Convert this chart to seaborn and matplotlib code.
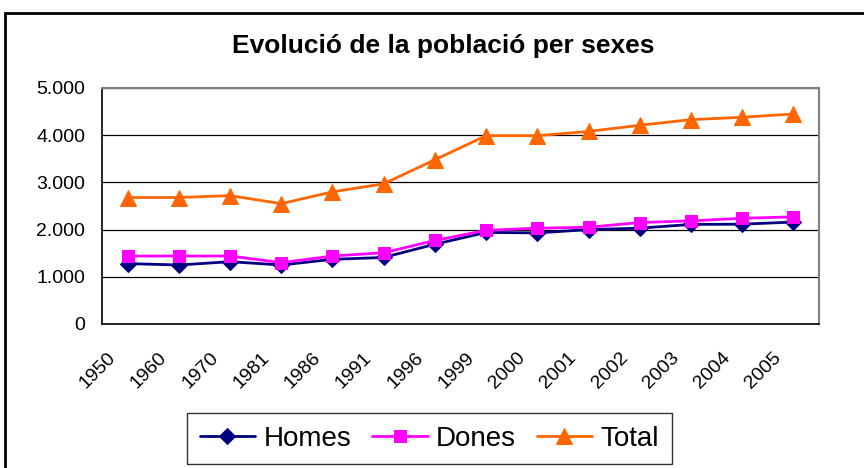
import pandas as pd
import matplotlib.pyplot as plt
import seaborn as sns
from matplotlib.patches import Rectangle
from matplotlib.ticker import FuncFormatter, FixedLocator

# Data
years = ['1950', '1960', '1970', '1981', '1986', '1991', '1996',
         '1999', '2000', '2001', '2002', '2003', '2004', '2005']
homes = [1280, 1250, 1320, 1250, 1370, 1410, 1690, 1940, 1930, 2000, 2030, 2110, 2115, 2160]
dones = [1440, 1440, 1440, 1300, 1440, 1510, 1770, 1985, 2030, 2050, 2150, 2185, 2240, 2270]
total = [2680, 2680, 2720, 2550, 2800, 2970, 3480, 3990, 3990, 4080, 4210, 4330, 4380, 4450]

df = pd.DataFrame({'pos': range(len(years)), 'year': years,
                   'Homes': homes, 'Dones': dones, 'Total': total})
long_df = df.melt(id_vars=['pos', 'year'], value_vars=['Homes', 'Dones', 'Total'],
                  var_name='serie', value_name='valor')

sns.set_style('white')
plt.rcParams['font.family'] = ['Liberation Sans', 'DejaVu Sans']
plt.rcParams['text.color'] = 'black'
plt.rcParams['xtick.color'] = 'black'
plt.rcParams['ytick.color'] = 'black'

fig = plt.figure(figsize=(8.64, 4.68), dpi=100)
ax = fig.add_axes([102 / 864, 1 - 324 / 468, 717 / 864, 236 / 468])

colors = {'Homes': '#000080', 'Dones': '#FF00FF', 'Total': '#FF6600'}
markers = {'Homes': 'D', 'Dones': 's', 'Total': '^'}
sizes = {'Homes': 8, 'Dones': 9, 'Total': 12}

for name in ['Homes', 'Dones', 'Total']:
    sub = long_df[long_df['serie'] == name]
    sns.lineplot(data=sub, x='pos', y='valor', ax=ax, color=colors[name],
                 marker=markers[name], markersize=sizes[name], markeredgecolor=colors[name],
                 linewidth=2, label=name, legend=False)

ax.set_xlim(-0.5, len(years) - 0.5)
ax.set_ylim(0, 5000)
ax.set_yticks(range(0, 5001, 1000))
ax.yaxis.set_major_formatter(FuncFormatter(lambda v, p: f'{int(v):,}'.replace(',', '.')))
ax.yaxis.grid(True, color='black', linewidth=0.9)
ax.set_axisbelow(True)

# category boundaries as tick marks; rotated labels sit a little left of each centre
ax.xaxis.set_major_locator(FixedLocator([i - 0.5 for i in range(len(years) + 1)]))
ax.xaxis.set_minor_locator(FixedLocator([i - 0.4 for i in range(len(years))]))
ax.set_xticklabels([])
ax.set_xticklabels(years, minor=True, rotation=45, ha='right', va='top', rotation_mode='anchor')
ax.tick_params(axis='x', which='major', length=5, width=1, color='black', direction='out')
ax.tick_params(axis='x', which='minor', length=0, labelsize=14, pad=18)
ax.tick_params(axis='y', length=5, width=1, color='black', direction='out', labelsize=14, pad=7)
ax.set_xlabel('')
ax.set_ylabel('')

for side in ['left', 'bottom']:
    ax.spines[side].set_color('black')
    ax.spines[side].set_linewidth(1.2)
for side in ['top', 'right']:
    ax.spines[side].set_color('#808080')
    ax.spines[side].set_linewidth(1.5)

fig.text(443 / 864, 1 - 46 / 468, 'Evolució de la població per sexes',
         ha='center', va='center', fontsize=19, fontweight='bold')

# outer chart frame (cut by the image edge)
fig.patches.append(Rectangle((5 / 864, -0.2), 2, 1 - 13 / 468 + 0.2,
                             transform=fig.transFigure, fill=False,
                             edgecolor='black', linewidth=2))

handles, labels = ax.get_legend_handles_labels()
leg = fig.legend(handles, labels, loc='upper left', bbox_to_anchor=(187 / 864, 1 - 413 / 468),
                 ncol=3, fontsize=20, frameon=True, fancybox=False, handlelength=2.0,
                 columnspacing=0.75, handletextpad=0.3, borderpad=0.45, borderaxespad=0)
leg.get_frame().set_edgecolor('black')
leg.get_frame().set_linewidth(1)

fig.savefig('out.png', dpi=100)
